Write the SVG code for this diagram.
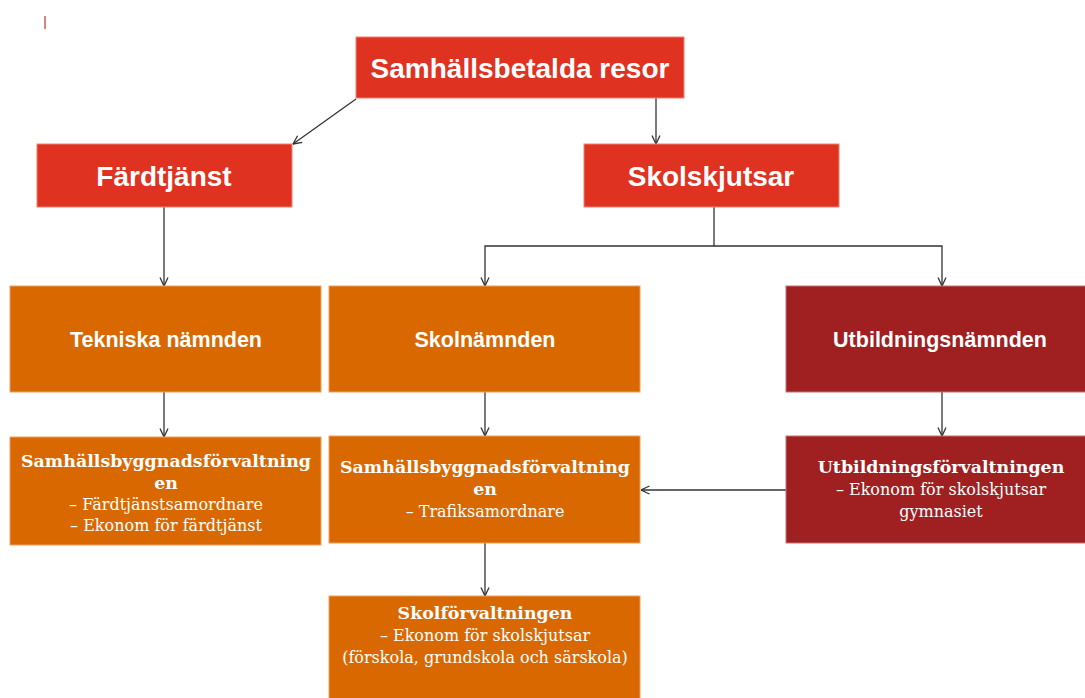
<svg xmlns="http://www.w3.org/2000/svg" width="1085" height="698" viewBox="0 0 1085 698">
<style>
.red{fill:#DF3220;stroke:#F08070;stroke-width:1}
.org{fill:#DA6800;stroke:#F0A060;stroke-width:1}
.drk{fill:#A01F21;stroke:#C87070;stroke-width:1}
.h1{font-family:"Liberation Sans",Arial,sans-serif;font-weight:bold;fill:#fff;text-anchor:middle;font-size:28px}
.h2{font-family:"Liberation Sans",Arial,sans-serif;font-weight:bold;fill:#fff;text-anchor:middle;font-size:21.5px}
.s{font-family:"DejaVu Serif","Liberation Serif",serif;fill:#fff;text-anchor:middle;font-size:16px}
.sb{font-weight:bold;font-size:17.4px}
.c{fill:none;stroke:#333;stroke-width:1.3}
</style>
<defs>
<marker id="ah" viewBox="0 0 10 10" refX="9.5" refY="5" markerWidth="10" markerHeight="10" markerUnits="userSpaceOnUse" orient="auto">
<path d="M1,1 L9.5,5 L1,9" fill="none" stroke="#333" stroke-width="1.3"/>
</marker>
</defs>
<line x1="45" y1="16" x2="45" y2="29" stroke="#C03030" stroke-width="1.2"/>
<g id="connectors">
<line class="c" x1="356" y1="99" x2="293" y2="144" marker-end="url(#ah)"/>
<line class="c" x1="656" y1="98" x2="656" y2="144" marker-end="url(#ah)"/>
<line class="c" x1="164" y1="207" x2="164" y2="286" marker-end="url(#ah)"/>
<polyline class="c" points="714,207 714,246 485,246 485,286" marker-end="url(#ah)"/>
<polyline class="c" points="714,246 942,246 942,286" marker-end="url(#ah)"/>
<line class="c" x1="164" y1="392" x2="164" y2="437" marker-end="url(#ah)"/>
<line class="c" x1="485" y1="392" x2="485" y2="436" marker-end="url(#ah)"/>
<line class="c" x1="942" y1="392" x2="942" y2="436" marker-end="url(#ah)"/>
<line class="c" x1="786" y1="490" x2="641" y2="490" marker-end="url(#ah)"/>
<line class="c" x1="485" y1="543" x2="485" y2="596" marker-end="url(#ah)"/>
</g>
<g id="n-top">
<rect class="red" x="356" y="37" width="328" height="61"/>
<text class="h1" x="520" y="78">Samhällsbetalda resor</text>
</g>
<g id="n-fardtjanst">
<rect class="red" x="37" y="144" width="255" height="63"/>
<text class="h1" x="164" y="186">Färdtjänst</text>
</g>
<g id="n-skolskjutsar">
<rect class="red" x="584" y="144" width="255" height="63"/>
<text class="h1" x="711" y="186">Skolskjutsar</text>
</g>
<g id="n-tekniska">
<rect class="org" x="10" y="286" width="311" height="106"/>
<text class="h2" x="166" y="347">Tekniska nämnden</text>
</g>
<g id="n-skolnamnden">
<rect class="org" x="329" y="286" width="311" height="106"/>
<text class="h2" x="485" y="347">Skolnämnden</text>
</g>
<g id="n-utbildningsnamnden">
<rect class="drk" x="786" y="286" width="300" height="106"/>
<text class="h2" x="940" y="347">Utbildningsnämnden</text>
</g>
<g id="n-sbf1">
<rect class="org" x="10" y="437" width="311" height="108"/>
<text class="s" x="166" y="467"><tspan class="sb">Samhällsbyggnadsförvaltning</tspan><tspan class="sb" x="166" dy="22">en</tspan><tspan x="166" dy="21">– Färdtjänstsamordnare</tspan><tspan x="166" dy="21">– Ekonom för färdtjänst</tspan></text>
</g>
<g id="n-sbf2">
<rect class="org" x="329" y="436" width="311" height="107"/>
<text class="s" x="485" y="473"><tspan class="sb">Samhällsbyggnadsförvaltning</tspan><tspan class="sb" x="485" dy="22">en</tspan><tspan x="485" dy="22">– Trafiksamordnare</tspan></text>
</g>
<g id="n-utbf">
<rect class="drk" x="786" y="436" width="300" height="107"/>
<text class="s" x="941" y="473"><tspan class="sb">Utbildningsförvaltningen</tspan><tspan x="941" dy="22">– Ekonom för skolskjutsar</tspan><tspan x="941" dy="22">gymnasiet</tspan></text>
</g>
<g id="n-skolf">
<rect class="org" x="329" y="596" width="311" height="103"/>
<text class="s" x="485" y="619"><tspan class="sb">Skolförvaltningen</tspan><tspan x="485" dy="22">– Ekonom för skolskjutsar</tspan><tspan x="485" dy="22">(förskola, grundskola och särskola)</tspan></text>
</g>
</svg>
